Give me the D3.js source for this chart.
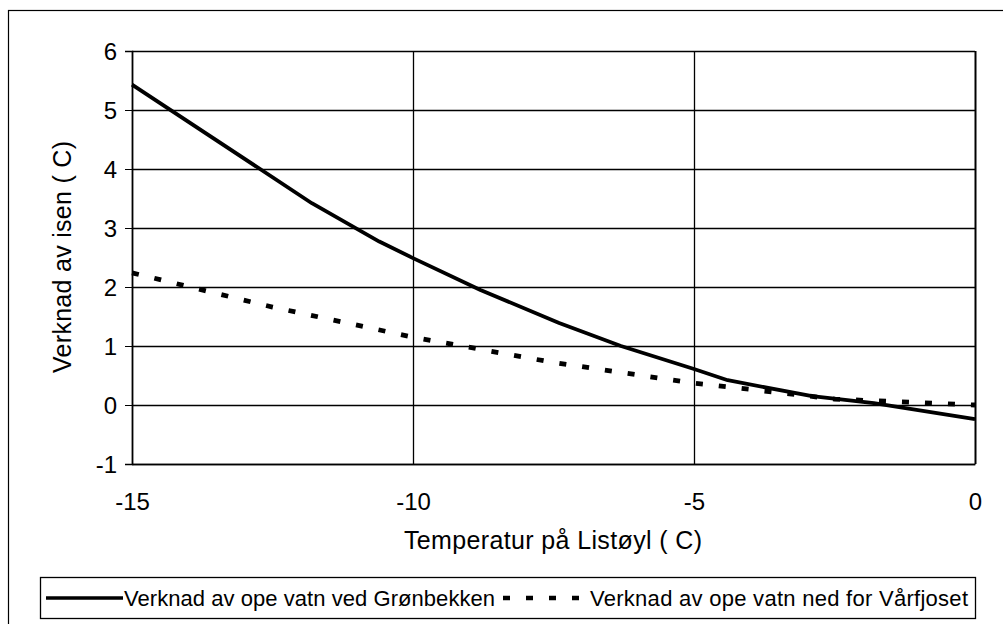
<!DOCTYPE html>
<html lang="no">
<head>
<meta charset="UTF-8" />
<title>Verknad av isen</title>
<script src="https://cdn.jsdelivr.net/npm/d3@7/dist/d3.min.js"></script>
<style>
  body { margin: 0; background: #fff; }
  svg text { font-family: "Liberation Sans", Arial, sans-serif; fill: #000; }
</style>
</head>
<body>
<script>
  // temperatur paa Listoyl (C)
  var tempGron = [-15, -11.8, -10.6, -10, -8.8, -7.4, -6.3, -5, -4.4, -2.9, -1.8, 0];
  var verknadGron = [5.43, 3.42, 2.77, 2.49, 1.95, 1.39, 1.0, 0.61, 0.42, 0.15, 0.03, -0.24];

  var tempVarf = [-15, -12.5, -10, -7.5, -5, -3.3, -2.5, 0];
  var verknadVarf = [2.24, 1.66, 1.15, 0.72, 0.37, 0.19, 0.1, 0.0];

  var xTicks = [-15, -10, -5, 0];
  var yTicks = [-1, 0, 1, 2, 3, 4, 5, 6];

  var seriesNames = ["Verknad av ope vatn ved Grønbekken", "Verknad av ope vatn ned for Vårfjoset"];

  var w = 1003,
    h = 624;
  var padL = 132, padR = 975, padT = 51, padB = 464;

  var svg = d3.select("body").append("svg")
    .attr("width", w)
    .attr("height", h);

  // outer frame of the chart
  svg.append("rect")
    .attr("x", 8.5).attr("y", 10.5)
    .attr("width", 1010).attr("height", 640)
    .attr("fill", "none")
    .attr("stroke", "#000")
    .attr("stroke-width", 1.2);

  var xScale = d3.scaleLinear().domain([-15, 0]).range([padL, padR]);
  var yScale = d3.scaleLinear().domain([-1, 6]).range([padB, padT]);

  // grid
  svg.append("g").selectAll("line")
    .data(yTicks)
    .enter().append("line")
    .attr("x1", padL).attr("x2", padR)
    .attr("y1", function(d) { return Math.round(yScale(d)) + 0.5; })
    .attr("y2", function(d) { return Math.round(yScale(d)) + 0.5; })
    .attr("stroke", "#000")
    .attr("stroke-width", 1.3);

  svg.append("g").selectAll("line")
    .data(xTicks)
    .enter().append("line")
    .attr("x1", function(d) { return Math.round(xScale(d)) + 0.5; })
    .attr("x2", function(d) { return Math.round(xScale(d)) + 0.5; })
    .attr("y1", padT).attr("y2", padB)
    .attr("stroke", "#000")
    .attr("stroke-width", function(d) { return d == 0 ? 2 : 1.3; });

  var yAxis = d3.axisLeft(yScale)
    .tickValues(yTicks)
    .tickSize(7)
    .tickPadding(8)
    .tickFormat(function(d) { return String(d); });

  var gy = svg.append("g")
    .attr("transform", "translate(" + padL + ",0)")
    .call(yAxis);
  gy.select(".domain").attr("stroke-width", 1.6);
  gy.selectAll("text")
    .style("font-size", "24px")
    .attr("dy", "0.36em");

  var xAxis = d3.axisBottom(xScale)
    .tickValues(xTicks)
    .tickSize(0)
    .tickPadding(29)
    .tickFormat(function(d) { return String(d); });

  var gx = svg.append("g")
    .attr("transform", "translate(0," + padB + ")")
    .call(xAxis);
  gx.select(".domain").attr("stroke-width", 1.6);
  gx.selectAll("text").style("font-size", "24px");

  // axis titles
  svg.append("text")
    .attr("x", 553).attr("y", 549)
    .attr("text-anchor", "middle")
    .attr("textLength", 298)
    .style("font-size", "25px")
    .text("Temperatur på Listøyl ( C)");

  svg.append("text")
    .attr("transform", "translate(71,257) rotate(-90)")
    .attr("text-anchor", "middle")
    .attr("textLength", 232)
    .style("font-size", "25px")
    .text("Verknad av isen ( C)");

  // lines
  var line = d3.line()
    .x(function(d) { return xScale(d[0]); })
    .y(function(d) { return yScale(d[1]); });

  svg.append("path")
    .datum(d3.zip(tempGron, verknadGron))
    .attr("d", line)
    .attr("fill", "none")
    .attr("stroke", "#000")
    .attr("stroke-width", 3.8)
    .attr("stroke-linejoin", "round");

  svg.append("path")
    .datum(d3.zip(tempVarf, verknadVarf))
    .attr("d", line)
    .attr("fill", "none")
    .attr("stroke", "#000")
    .attr("stroke-width", 4.8)
    .attr("stroke-dasharray", "7,16");

  // legend
  var legend = svg.append("g");
  legend.append("rect")
    .attr("x", 40.5).attr("y", 577.5)
    .attr("width", 935).attr("height", 41)
    .attr("fill", "#fff")
    .attr("stroke", "#000")
    .attr("stroke-width", 1.3);

  legend.append("line")
    .attr("x1", 46).attr("x2", 123)
    .attr("y1", 598).attr("y2", 598)
    .attr("stroke", "#000")
    .attr("stroke-width", 3.5);

  legend.append("text")
    .attr("x", 124).attr("y", 606)
    .attr("textLength", 371)
    .style("font-size", "22px")
    .text(seriesNames[0]);

  legend.append("line")
    .attr("x1", 503).attr("x2", 590)
    .attr("y1", 598).attr("y2", 598)
    .attr("stroke", "#000")
    .attr("stroke-width", 4.5)
    .attr("stroke-dasharray", "7,16");

  legend.append("text")
    .attr("x", 590).attr("y", 606)
    .attr("textLength", 378)
    .style("font-size", "22px")
    .text(seriesNames[1]);
</script>
</body>
</html>
